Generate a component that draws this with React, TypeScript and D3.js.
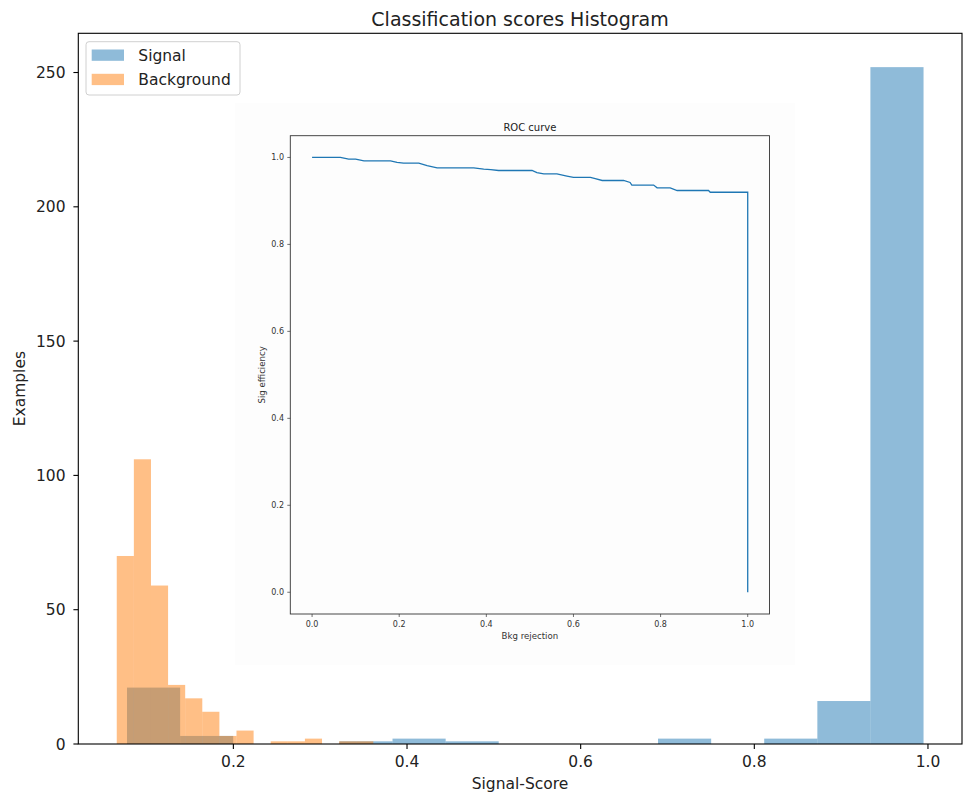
import React, { useRef, useEffect } from "react";
import * as d3 from "d3";

// histogram bin edges (15 bins each) and counts
const signalEdges = [0.0775, 0.1387, 0.1998, 0.261, 0.3221, 0.3833, 0.4445, 0.5056, 0.5668, 0.6279, 0.6891, 0.7503, 0.8114, 0.8726, 0.9337, 0.9949];
const signalCounts = [21, 3, 0, 0, 1, 2, 1, 0, 0, 0, 2, 0, 2, 16, 252];
const bkgEdges = [0.0657, 0.0854, 0.1051, 0.1248, 0.1445, 0.1642, 0.1839, 0.2036, 0.2233, 0.243, 0.2627, 0.2824, 0.3021, 0.3218, 0.3415, 0.3612];
const bkgCounts = [70, 106, 59, 22, 17, 12, 3, 5, 0, 1, 1, 2, 0, 1, 1];

const xTicks = [0.2, 0.4, 0.6, 0.8, 1.0];
const yTicks = [0, 50, 100, 150, 200, 250];

// ROC curve (bkg rejection, sig efficiency)
const rocX = [0, 0.065, 0.084, 0.1, 0.119, 0.18, 0.195, 0.21, 0.245, 0.264, 0.287, 0.371, 0.394, 0.41, 0.428, 0.505, 0.516, 0.532, 0.562, 0.585, 0.6, 0.639, 0.65, 0.666, 0.715, 0.73, 0.734, 0.784, 0.792, 0.822, 0.838, 0.91, 0.914, 1.0, 1.0];
const rocY = [1.0, 1.0, 0.996, 0.996, 0.992, 0.992, 0.9885, 0.987, 0.987, 0.981, 0.976, 0.976, 0.973, 0.972, 0.97, 0.97, 0.965, 0.962, 0.962, 0.957, 0.954, 0.954, 0.951, 0.947, 0.947, 0.9425, 0.9364, 0.9364, 0.93, 0.93, 0.924, 0.924, 0.92, 0.92, 0.0];
const rocTicks = [0, 0.2, 0.4, 0.6, 0.8, 1.0];

const FONT = "DejaVu Sans, sans-serif";
const BLUE = "#1f77b4";
const ORANGE = "#ff7f0e";
const FS = 15.5; // tick / label / legend size
const FS_TITLE = 19;

export default function App() {
  const svgRef = useRef(null);

  useEffect(() => {
    const svg = d3.select(svgRef.current);
    svg.selectAll("*").remove();
    svg.append("rect").attr("width", 963).attr("height", 794).attr("fill", "white");

    const x = d3.scaleLinear().domain([0.0214, 1.0392]).range([78.3, 962]);
    const y = d3.scaleLinear().domain([0, 264.6]).range([744, 33.3]);

    // histograms: signal first, background drawn over it
    const drawHist = (edges, counts, color) => {
      svg.append("g")
        .selectAll("rect")
        .data(counts)
        .enter().append("rect")
        .attr("x", (d, i) => x(edges[i]))
        .attr("width", (d, i) => x(edges[i + 1]) - x(edges[i]))
        .attr("y", d => y(d))
        .attr("height", d => y(0) - y(d))
        .attr("fill", color)
        .attr("fill-opacity", 0.5);
    };
    drawHist(signalEdges, signalCounts, BLUE);
    drawHist(bkgEdges, bkgCounts, ORANGE);

    // ---- ROC inset (a pasted figure, faint background) ----
    const inset = svg.append("g");
    inset.append("rect")
      .attr("x", 235).attr("y", 103).attr("width", 560).attr("height", 562)
      .attr("fill", "#fdfdfd");
    const rx = d3.scaleLinear().domain([-0.05, 1.05]).range([290.3, 769.5]);
    const ry = d3.scaleLinear().domain([-0.05, 1.05]).range([614, 135.7]);
    const rocLine = d3.line().x(d => rx(d[0])).y(d => ry(d[1]));
    inset.append("path")
      .datum(rocX.map((v, i) => [v, rocY[i]]))
      .attr("d", rocLine)
      .attr("fill", "none")
      .attr("stroke", BLUE)
      .attr("stroke-width", 1.3);
    inset.append("rect")
      .attr("x", rx(-0.05)).attr("y", ry(1.05))
      .attr("width", rx(1.05) - rx(-0.05)).attr("height", ry(-0.05) - ry(1.05))
      .attr("fill", "none").attr("stroke", "#333").attr("stroke-width", 0.9);
    rocTicks.forEach(t => {
      inset.append("line")
        .attr("x1", rx(t)).attr("x2", rx(t)).attr("y1", ry(-0.05)).attr("y2", ry(-0.05) + 3)
        .attr("stroke", "#333").attr("stroke-width", 0.7);
      inset.append("text")
        .attr("x", rx(t)).attr("y", 627)
        .attr("text-anchor", "middle")
        .attr("font-size", 8).attr("font-family", FONT).attr("fill", "#333")
        .text(t.toFixed(1));
      inset.append("line")
        .attr("x1", rx(-0.05) - 3).attr("x2", rx(-0.05)).attr("y1", ry(t)).attr("y2", ry(t))
        .attr("stroke", "#333").attr("stroke-width", 0.7);
      inset.append("text")
        .attr("x", 284).attr("y", ry(t))
        .attr("dy", "0.35em")
        .attr("text-anchor", "end")
        .attr("font-size", 8).attr("font-family", FONT).attr("fill", "#333")
        .text(t.toFixed(1));
    });
    inset.append("text")
      .attr("x", (rx(-0.05) + rx(1.05)) / 2).attr("y", 131)
      .attr("text-anchor", "middle")
      .attr("font-size", 10).attr("font-family", FONT).attr("fill", "#222")
      .text("ROC curve");
    inset.append("text")
      .attr("x", (rx(-0.05) + rx(1.05)) / 2).attr("y", 639)
      .attr("text-anchor", "middle")
      .attr("font-size", 8.6).attr("font-family", FONT).attr("fill", "#333")
      .text("Bkg rejection");
    inset.append("text")
      .attr("transform", "translate(265," + (ry(-0.05) + ry(1.05)) / 2 + ") rotate(-90)")
      .attr("text-anchor", "middle")
      .attr("font-size", 8.6).attr("font-family", FONT).attr("fill", "#333")
      .text("Sig efficiency");

    // ---- main axes ----
    const frame = svg.append("g");
    frame.append("rect")
      .attr("x", x.range()[0]).attr("y", y.range()[1])
      .attr("width", x.range()[1] - x.range()[0]).attr("height", y.range()[0] - y.range()[1])
      .attr("fill", "none").attr("stroke", "black").attr("stroke-width", 1.1);

    xTicks.forEach(t => {
      frame.append("line")
        .attr("x1", x(t)).attr("x2", x(t)).attr("y1", 744).attr("y2", 749)
        .attr("stroke", "black").attr("stroke-width", 1.1);
      frame.append("text")
        .attr("x", x(t)).attr("y", 767)
        .attr("text-anchor", "middle")
        .attr("font-size", FS).attr("font-family", FONT).attr("fill", "#222")
        .text(t.toFixed(1));
    });
    yTicks.forEach(t => {
      frame.append("line")
        .attr("x1", 73.4).attr("x2", 78.3).attr("y1", y(t)).attr("y2", y(t))
        .attr("stroke", "black").attr("stroke-width", 1.1);
      frame.append("text")
        .attr("x", 65.5).attr("y", y(t))
        .attr("dy", "0.36em")
        .attr("text-anchor", "end")
        .attr("font-size", FS).attr("font-family", FONT).attr("fill", "#222")
        .text(t);
    });

    svg.append("text")
      .attr("x", 520).attr("y", 25.5)
      .attr("text-anchor", "middle")
      .attr("font-size", FS_TITLE).attr("font-family", FONT).attr("fill", "#222")
      .text("Classification scores Histogram");
    svg.append("text")
      .attr("x", 520).attr("y", 789)
      .attr("text-anchor", "middle")
      .attr("font-size", FS).attr("font-family", FONT).attr("fill", "#222")
      .text("Signal-Score");
    svg.append("text")
      .attr("transform", "translate(25," + (744 + 33.3) / 2 + ") rotate(-90)")
      .attr("text-anchor", "middle")
      .attr("font-size", FS).attr("font-family", FONT).attr("fill", "#222")
      .text("Examples");

    // legend
    const legendData = [
      { color: BLUE, text: "Signal" },
      { color: ORANGE, text: "Background" }
    ];
    const lg = svg.append("g");
    lg.append("rect")
      .attr("x", 86).attr("y", 41.7).attr("width", 154).attr("height", 53.3)
      .attr("rx", 3)
      .attr("fill", "white").attr("fill-opacity", 0.8)
      .attr("stroke", "#d0d0d0").attr("stroke-width", 1);
    const item = lg.selectAll(".legend")
      .data(legendData)
      .enter().append("g")
      .attr("class", "legend")
      .attr("transform", (d, i) => "translate(0," + i * 24.3 + ")");
    item.append("rect")
      .attr("x", 91.7).attr("y", 49.5).attr("width", 32.3).attr("height", 11.3)
      .attr("fill", d => d.color).attr("fill-opacity", 0.5);
    item.append("text")
      .attr("x", 138.3).attr("y", 60.8)
      .attr("font-size", FS).attr("font-family", FONT).attr("fill", "#222")
      .text(d => d.text);
  }, []);

  return (
    <svg ref={svgRef} width={963} height={794} style={{ position: "absolute", left: 0, top: 0 }}></svg>
  );
}
